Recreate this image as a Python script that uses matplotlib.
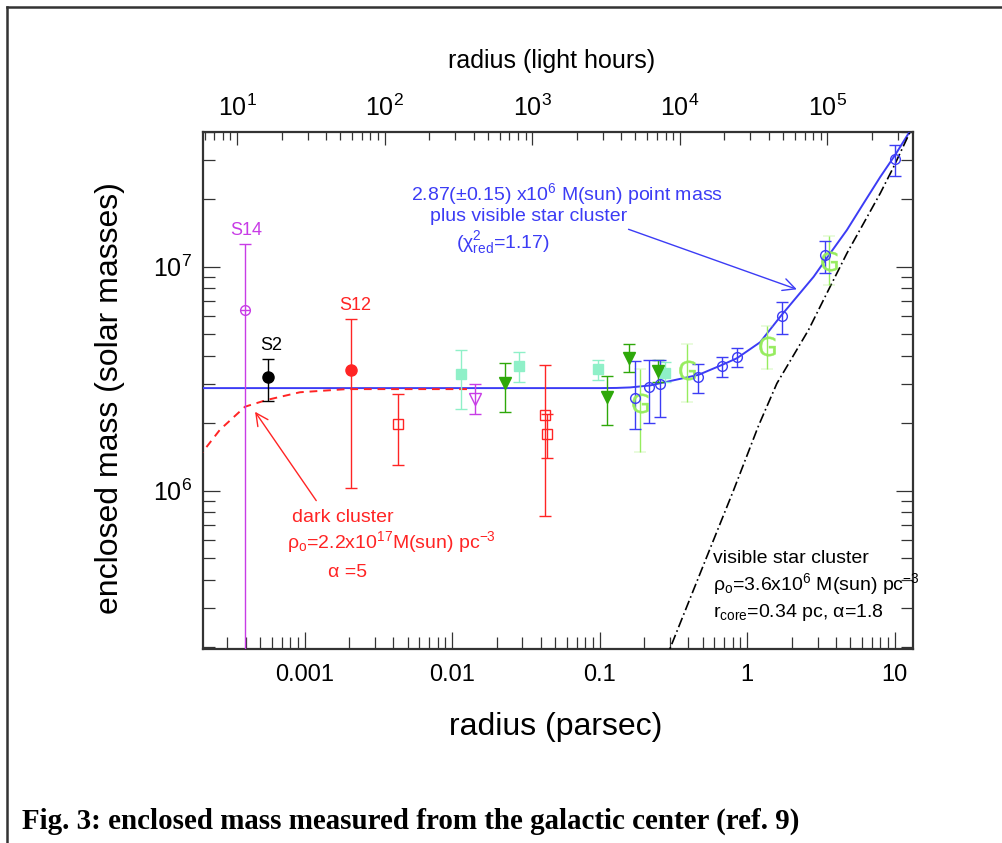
import matplotlib
matplotlib.use("Agg")
import matplotlib.pyplot as plt
from matplotlib.lines import Line2D
from matplotlib.ticker import FixedLocator, LogLocator, NullFormatter
import numpy as np

plt.rcParams["font.family"] = ["Liberation Sans", "DejaVu Sans"]
plt.rcParams["mathtext.default"] = "regular"

W, H = 1002, 843

# --- measured points (radius in pc, enclosed mass in M_sun, error bounds) ---
s14_r = [3.95e-4]
s14_m = [6.4e6]
s14_lo = [1.0e5]
s14_hi = [1.27e7]

s2_r = [5.69e-4]
s2_m = [3.21e6]
s2_lo = [2.52e6]
s2_hi = [3.86e6]

s12_r = [2.07e-3]
s12_m = [3.46e6]
s12_lo = [1.03e6]
s12_hi = [5.86e6]

red_sq_r = [4.30e-3, 0.0423, 0.0443]
red_sq_m = [1.99e6, 2.18e6, 1.79e6]
red_sq_lo = [1.30e6, 7.66e5, 1.40e6]
red_sq_hi = [2.69e6, 3.63e6, 2.19e6]

mint_r = [0.01146, 0.0286, 0.0972, 0.278]
mint_m = [3.31e6, 3.61e6, 3.49e6, 3.34e6]
mint_lo = [2.31e6, 3.05e6, 3.12e6, 3.05e6]
mint_hi = [4.25e6, 4.15e6, 3.83e6, 3.75e6]

mag_tri_r = [0.01433]
mag_tri_m = [2.57e6]
mag_tri_lo = [2.21e6]
mag_tri_hi = [2.99e6]

grn_tri_r = [0.02276, 0.112, 0.158, 0.25]
grn_tri_m = [3.01e6, 2.63e6, 3.90e6, 3.43e6]
grn_tri_lo = [2.24e6, 1.96e6, 3.38e6, 3.05e6]
grn_tri_hi = [3.73e6, 3.26e6, 4.52e6, 3.83e6]

blue_r = [0.174, 0.215, 0.255, 0.463, 0.673, 0.851, 1.72, 3.38, 9.97]
blue_m = [2.59e6, 2.91e6, 2.99e6, 3.23e6, 3.61e6, 3.95e6, 6.04e6, 1.13e7, 3.03e7]
blue_lo = [1.88e6, 2.00e6, 2.14e6, 2.72e6, 3.23e6, 3.58e6, 5.01e6, 9.33e6, 2.55e7]
blue_hi = [3.80e6, 3.83e6, 3.83e6, 3.68e6, 3.97e6, 4.32e6, 6.98e6, 1.31e7, 3.49e7]

g_r = [0.188, 0.390, 1.37, 3.56]
g_m = [2.45e6, 3.46e6, 4.43e6, 1.06e7]
g_lo = [1.48e6, 2.49e6, 3.51e6, 8.28e6]
g_hi = [3.51e6, 4.52e6, 5.46e6, 1.37e7]

# --- model curves ---
fit_r = [1.0e-4, 0.1007, 0.13, 0.161, 0.220, 0.370, 0.468, 0.673, 0.851, 1.224, 1.674,
         2.82, 3.65, 4.74, 6.15, 7.98, 10.07, 12.4, 13.8]
fit_m = [2.87e6, 2.87e6, 2.875e6, 2.89e6, 2.95e6, 3.18e6, 3.29e6, 3.64e6, 3.90e6, 4.6e6,
         5.98e6, 9.02e6, 1.148e7, 1.459e7, 1.92e7, 2.52e7, 3.16e7, 3.94e7, 4.5e7]

dark_r = [1.9e-4, 2.01e-4, 2.67e-4, 3.95e-4, 5.54e-4, 9.31e-4, 1.93e-3, 0.0113, 0.0135]
dark_m = [1.40e6, 1.47e6, 1.87e6, 2.37e6, 2.54e6, 2.75e6, 2.84e6, 2.84e6, 2.84e6]

vis_r = [0.25, 0.3006, 0.533, 0.807, 1.194, 1.589, 2.60, 3.65, 4.74, 6.15, 7.98, 9.82,
         12.4, 14.0]
vis_m = [1.45e5, 1.977e5, 5.07e5, 1.0e6, 1.95e6, 3.01e6, 5.21e6, 8.15e6, 1.148e7,
         1.563e7, 2.13e7, 2.79e7, 3.87e7, 4.54e7]

PC_TO_LH = 28591.0

BLUE = "#3c3cf5"
RED = "#ff2424"
MAG = "#c83ce6"
MINT = "#8ff0c8"
GREEN = "#2ea80a"
LGREEN = "#96ec5e"


def errs(m, lo, hi):
    m = np.asarray(m)
    return [m - np.asarray(lo), np.asarray(hi) - m]


def px(x, y):
    return x / W, 1 - y / H


fig = plt.figure(figsize=(W / 100, H / 100), dpi=100)
ax = fig.add_axes([203 / W, 1 - 649 / H, (913 - 203) / W, (649 - 132) / H])
ax.set_xscale("log")
ax.set_yscale("log")
ax.set_xlim(2.05e-4, 13.3)
ax.set_ylim(1.96e5, 4.0e7)

# curves
ax.plot(fit_r, fit_m, color=BLUE, lw=1.4, zorder=3)
ax.plot(dark_r, dark_m, color=RED, lw=1.4, ls=(0, (4, 3)), zorder=4)
ax.plot(vis_r, vis_m, color="black", lw=1.2, ls=(0, (6, 2, 1, 2)), zorder=3)

eb = dict(capsize=4, elinewidth=1.0, capthick=1.0, ls="none", zorder=5)
ax.errorbar(s14_r, s14_m, yerr=errs(s14_m, s14_lo, s14_hi), marker="o", mfc="none",
            mec=MAG, ms=7, color=MAG, **eb)
ax.plot(s14_r, s14_m, ls="none", marker="_", ms=7, mew=1.0, color=MAG, zorder=5)
ax.errorbar(s2_r, s2_m, yerr=errs(s2_m, s2_lo, s2_hi), marker="o", ms=8,
            color="black", **eb)
ax.errorbar(s12_r, s12_m, yerr=errs(s12_m, s12_lo, s12_hi), marker="o", ms=8,
            color=RED, **eb)
ax.errorbar(red_sq_r, red_sq_m, yerr=errs(red_sq_m, red_sq_lo, red_sq_hi), marker="s",
            mfc="none", mec=RED, ms=7, color=RED, **eb)
ax.errorbar(mint_r, mint_m, yerr=errs(mint_m, mint_lo, mint_hi), marker="s", ms=7,
            color=MINT, **eb)
ax.errorbar(mag_tri_r, mag_tri_m, yerr=errs(mag_tri_m, mag_tri_lo, mag_tri_hi), marker="v",
            mfc="none", mec=MAG, ms=8, color=MAG, **eb)
ax.errorbar(grn_tri_r, grn_tri_m, yerr=errs(grn_tri_m, grn_tri_lo, grn_tri_hi), marker="v",
            ms=8, color=GREEN, **eb)
ax.errorbar(g_r, g_m, yerr=errs(g_m, g_lo, g_hi), marker=r"$\mathrm{G}$", ms=14, mew=0.3,
            color=LGREEN, **eb)
ax.errorbar(blue_r, blue_m, yerr=errs(blue_m, blue_lo, blue_hi), marker="o", mfc="none",
            mec=BLUE, ms=7, color=BLUE, **eb)

# axes styling
for sp in ax.spines.values():
    sp.set_color("#333333")
    sp.set_linewidth(1.6)

ax.xaxis.set_major_locator(FixedLocator([1e-3, 1e-2, 0.1, 1, 10]))
ax.set_xticklabels(["0.001", "0.01", "0.1", "1", "10"])
ax.xaxis.set_minor_locator(LogLocator(base=10, subs=np.arange(2, 10), numticks=20))
ax.xaxis.set_minor_formatter(NullFormatter())
ax.yaxis.set_minor_locator(LogLocator(base=10, subs=np.arange(2, 10), numticks=20))
ax.yaxis.set_minor_formatter(NullFormatter())
ax.tick_params(which="both", direction="in", top=False, right=True, color="#333333",
               width=0.9, labelsize=17)
ax.tick_params(axis="y", labelsize=18, pad=8)
ax.tick_params(which="major", length=12.5)
ax.tick_params(which="minor", length=8.5)
ax.tick_params(axis="x", pad=11)

top = ax.secondary_xaxis("top", functions=(lambda r: r * PC_TO_LH, lambda h: h / PC_TO_LH))
top.xaxis.set_major_locator(FixedLocator([1e1, 1e2, 1e3, 1e4, 1e5]))
top.xaxis.set_minor_locator(LogLocator(base=10, subs=np.arange(2, 10), numticks=20))
top.xaxis.set_minor_formatter(NullFormatter())
top.tick_params(which="both", direction="in", color="#333333", width=0.9, labelsize=18, pad=8)
top.tick_params(which="major", length=9.5)
top.tick_params(which="minor", length=6)
top.spines["top"].set_visible(False)

# axis titles
fig.text(*px(555.7, 735), "radius (parsec)", fontsize=23, ha="center", va="baseline")
fig.text(*px(552, 68.3), "radius (light hours)", fontsize=18, ha="center", va="baseline")
fig.text(*px(118.3, 398), "enclosed mass (solar masses)", fontsize=23, rotation=90,
         rotation_mode="anchor", ha="center", va="baseline")

# star labels
fig.text(*px(246.7, 235), "S14", color=MAG, fontsize=13, ha="center", va="baseline")
fig.text(*px(271.7, 350), "S2", color="black", fontsize=13, ha="center", va="baseline")
fig.text(*px(355, 310), "S12", color=RED, fontsize=13, ha="center", va="baseline")

# fit annotation
fig.text(*px(567, 200.5), "2.87(±0.15) x10$^{6}$ M(sun) point mass", color=BLUE,
         fontsize=14, ha="center", va="baseline")
fig.text(*px(529, 220.7), "plus visible star cluster", color=BLUE, fontsize=14,
         ha="center", va="baseline")
fig.text(*px(502.5, 248), "(χ$^{2}_{red}$=1.17)", color=BLUE, fontsize=14,
         ha="center", va="baseline")
ax.annotate("", xy=(2.17, 7.93e6), xytext=(0.157, 1.47e7),
            arrowprops=dict(arrowstyle="->", color=BLUE, lw=1.0, shrinkA=0, shrinkB=0,
                            mutation_scale=22))

# dark cluster annotation
fig.text(*px(343, 521.7), "dark cluster", color=RED, fontsize=14, ha="center", va="baseline")
fig.text(*px(391.7, 548.3), "ρ$_{o}$=2.2x10$^{17}$M(sun) pc$^{-3}$", color=RED,
         fontsize=14, ha="center", va="baseline")
fig.text(*px(348, 576.7), "α =5", color=RED, fontsize=14, ha="center", va="baseline")
ax.annotate("", xy=(4.62e-4, 2.25e6), xytext=(1.20e-3, 9.02e5),
            arrowprops=dict(arrowstyle="->", color=RED, lw=1.0, shrinkA=0, shrinkB=0,
                            mutation_scale=22))

# visible cluster annotation
fig.text(*px(713.3, 562.7), "visible star cluster", fontsize=14, ha="left", va="baseline")
fig.text(*px(713.3, 590), "ρ$_{o}$=3.6x10$^{6}$ M(sun) pc$^{-3}$", fontsize=14,
         ha="left", va="baseline")
fig.text(*px(713.3, 617.3), "r$_{core}$=0.34 pc, α=1.8", fontsize=14, ha="left",
         va="baseline")

# caption and page frame
fig.text(*px(22.5, 829), "Fig. 3: enclosed mass measured from the galactic center (ref. 9)",
         fontsize=20.9, fontweight="bold", family=["Liberation Serif", "DejaVu Serif"],
         ha="left", va="baseline")
fig.add_artist(Line2D([6.5 / W, 6.5 / W], [0, 1 - 6.5 / H], color="#333333", lw=1.8))
fig.add_artist(Line2D([6.5 / W, 1], [1 - 6.5 / H, 1 - 6.5 / H], color="#333333", lw=1.8))

fig.savefig("out.png", dpi=100)
plt.close(fig)
